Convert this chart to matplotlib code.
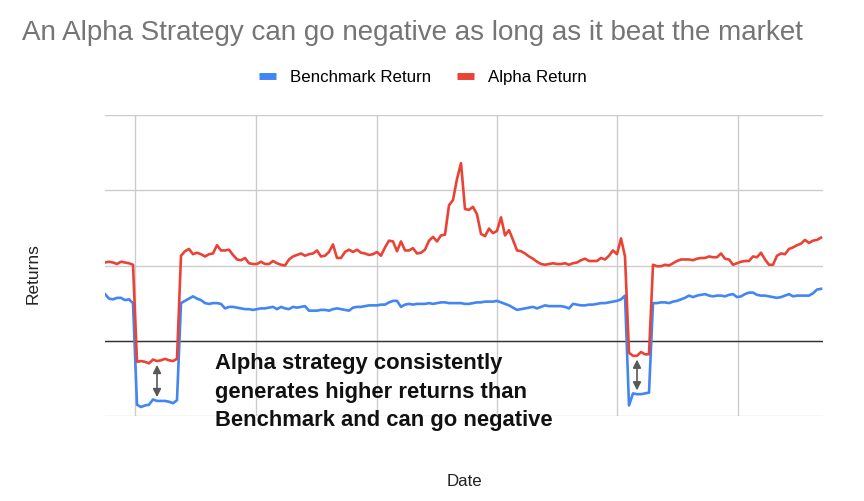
import matplotlib
matplotlib.use("Agg")
import matplotlib.pyplot as plt
import numpy as np

title = "An Alpha Strategy can go negative as long as it beat the market"
series_names = ["Benchmark Return", "Alpha Return"]
annotation = "Alpha strategy consistently\ngenerates higher returns than\nBenchmark and can go negative"

alpha_return = [
    10.4, 10.5, 10.4, 10.2, 10.5, 10.4, 10.3, 10.1, -2.8, -2.7,
    -2.8, -3.0, -2.5, -2.7, -2.6, -2.4, -2.6, -2.7, -2.4, 11.3,
    11.9, 12.2, 11.5, 11.7, 11.5, 11.2, 11.5, 11.6, 12.7, 12.0,
    12.0, 12.1, 11.4, 10.8, 10.7, 11.0, 10.3, 10.2, 10.2, 10.5,
    10.2, 10.2, 10.6, 10.3, 10.1, 10.0, 10.8, 11.2, 11.4, 11.6,
    11.3, 11.5, 11.6, 12.0, 11.2, 11.3, 11.8, 12.8, 11.0, 11.0,
    11.8, 12.1, 11.8, 12.1, 11.7, 11.6, 11.4, 11.5, 11.8, 11.3,
    12.4, 13.3, 13.2, 11.9, 13.2, 12.0, 12.0, 12.3, 11.6, 11.7,
    12.1, 13.3, 13.8, 13.2, 14.0, 14.1, 18.0, 18.7, 21.5, 23.6,
    17.5, 17.4, 17.8, 16.8, 14.2, 13.9, 14.9, 14.3, 14.6, 16.4,
    14.0, 14.7, 13.4, 12.0, 11.9, 11.6, 11.2, 10.9, 10.5, 10.2,
    10.1, 10.2, 10.3, 10.2, 10.2, 10.3, 10.1, 10.3, 10.4, 10.7,
    10.9, 10.6, 10.6, 10.6, 11.0, 10.8, 11.3, 12.0, 11.5, 13.6,
    11.2, -1.6, -2.0, -2.0, -1.5, -1.8, -1.8, 10.1, 9.9, 9.9,
    10.1, 10.0, 10.3, 10.6, 10.8, 10.8, 10.8, 10.7, 10.9, 11.0,
    11.0, 11.2, 11.1, 11.1, 11.6, 10.9, 10.8, 10.1, 10.3, 10.5,
    10.6, 10.6, 11.2, 11.1, 11.7, 10.8, 10.1, 10.1, 11.3, 11.6,
    11.5, 12.2, 12.4, 12.7, 12.9, 13.4, 13.0, 13.3, 13.4, 13.7,
]

benchmark_return = [
    6.2, 5.6, 5.5, 5.7, 5.7, 5.4, 5.5, 5.0, -8.5, -8.8,
    -8.6, -8.5, -7.8, -8.0, -8.0, -8.0, -8.1, -8.3, -7.9, 5.0,
    5.3, 5.6, 5.9, 5.6, 5.4, 5.0, 4.9, 5.0, 5.0, 4.9,
    4.3, 4.5, 4.5, 4.4, 4.3, 4.2, 4.2, 4.1, 4.2, 4.3,
    4.3, 4.4, 4.5, 4.2, 4.5, 4.3, 4.2, 4.5, 4.4, 4.5,
    4.6, 4.0, 4.0, 4.0, 4.1, 4.1, 4.0, 4.2, 4.3, 4.2,
    4.1, 4.0, 4.4, 4.5, 4.5, 4.6, 4.7, 4.7, 4.7, 4.8,
    4.8, 5.1, 5.3, 5.3, 4.5, 4.8, 4.9, 4.8, 4.9, 4.9,
    4.9, 5.0, 4.9, 5.0, 5.1, 5.1, 5.0, 5.0, 5.0, 5.0,
    4.9, 4.9, 5.0, 5.1, 5.1, 5.2, 5.2, 5.2, 5.3, 5.1,
    4.9, 4.7, 4.4, 4.1, 4.2, 4.3, 4.4, 4.5, 4.3, 4.5,
    4.7, 4.6, 4.6, 4.6, 4.6, 4.5, 4.3, 4.9, 4.8, 4.7,
    4.7, 4.8, 4.8, 4.9, 5.0, 5.0, 5.1, 5.2, 5.3, 5.5,
    6.0, -8.6, -7.0, -7.1, -7.1, -7.0, -6.9, 5.0, 5.0, 5.1,
    5.1, 5.0, 5.2, 5.3, 5.5, 5.7, 6.0, 5.8, 6.0, 6.1,
    6.2, 6.0, 5.9, 6.0, 6.0, 5.9, 6.1, 6.2, 5.8, 5.9,
    6.2, 6.4, 6.4, 6.1, 6.0, 6.0, 5.9, 5.8, 5.7, 5.8,
    6.0, 6.2, 5.9, 6.0, 6.0, 6.0, 6.0, 6.3, 6.8, 6.9,
]

arrow_points = [13, 133]   # sample indices where the gap is marked

x = np.arange(len(alpha_return))

plt.rcParams['font.family'] = ['Liberation Sans', 'DejaVu Sans']
fig = plt.figure(figsize=(8.64, 5.01), dpi=100)
ax = fig.add_axes([105/864, 85/501, 718/864, 301/501])

ax.plot(x, benchmark_return, color='#4285F4', lw=1.9, label=series_names[0], solid_joinstyle='round', zorder=3)
ax.plot(x, alpha_return, color='#EA4335', lw=1.9, label=series_names[1], solid_joinstyle='round', zorder=4)

ax.set_xlim(0, (823 - 105) / 4)
ax.set_ylim(-10, 30)
ax.set_yticks([-10, 0, 10, 20, 30])
ax.set_xticks([7.5, 37.75, 68, 98, 128, 158.25])
ax.tick_params(length=0, labelleft=False, labelbottom=False)
ax.grid(True, color='#cccccc', lw=1)
ax.axhline(0, color='#333333', lw=1, zorder=2)
for s in ax.spines.values():
    s.set_visible(False)

for i in arrow_points:
    ax.annotate('', xy=(i, alpha_return[i] - 0.5), xytext=(i, benchmark_return[i] + 0.5),
                arrowprops=dict(arrowstyle='<|-|>', color='#595959', lw=1.2,
                                mutation_scale=12, shrinkA=0, shrinkB=0), zorder=5)

ax.text(0.1535, 0.208, annotation, transform=ax.transAxes, ha='left', va='top',
        fontsize=15.8, fontweight='bold', color='#111111', linespacing=1.45)

fig.text(22/864, 1 - 33/501, title, ha='left', va='center', fontsize=20, color='#757575')

leg = fig.legend(loc='center', bbox_to_anchor=(423/864, 1 - 77/501), ncol=2, frameon=False,
                 fontsize=12.2, handlelength=1.0, handletextpad=0.85, columnspacing=1.5)
for h in leg.get_lines():
    h.set_linewidth(5)
    h.set_solid_capstyle('butt')

fig.text(33/864, 1 - 274/501, 'Returns', rotation=90, ha='center', va='center', fontsize=12.5, color='#222222')
fig.text(464/864, 1 - 481/501, 'Date', ha='center', va='center', fontsize=12.2, color='#222222')

fig.savefig('out.png', dpi=100)
